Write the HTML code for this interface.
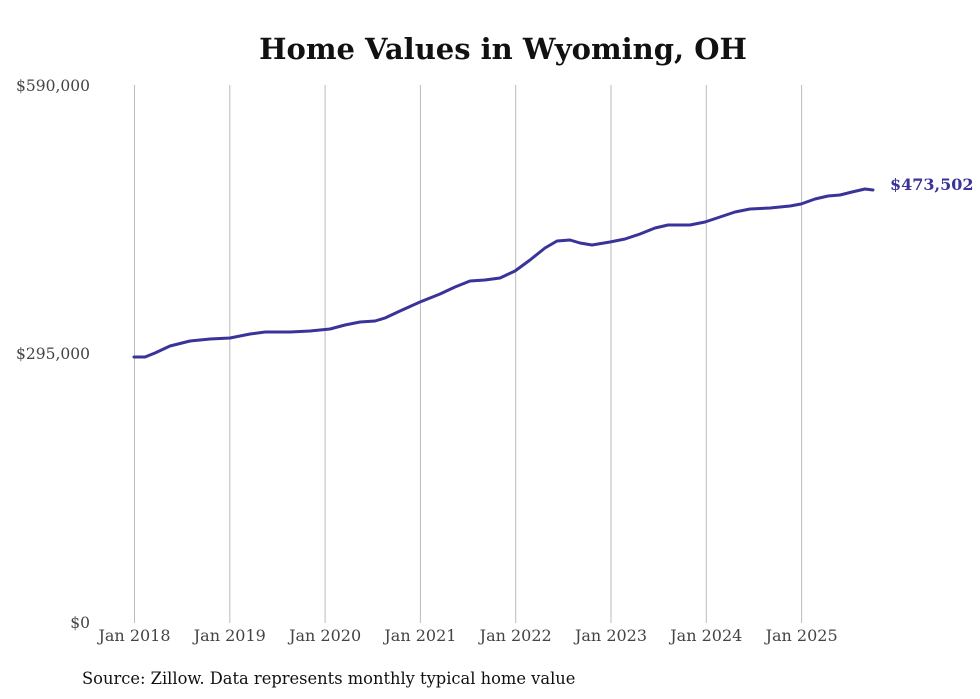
<!DOCTYPE html>
<html><head><meta charset="utf-8"><style>
html,body{margin:0;padding:0;background:#fff;}
svg{display:block;font-family:"DejaVu Serif","Liberation Serif",serif;}
</style></head><body>
<svg width="980" height="699" viewBox="0 0 980 699" xmlns="http://www.w3.org/2000/svg">
<rect width="980" height="699" fill="#fff"/>
<text x="503" y="59" text-anchor="middle" font-size="29" font-weight="bold" fill="#111">Home Values in Wyoming, OH</text>
<g stroke="#bbb" stroke-width="1">
<line x1="134.5" y1="85" x2="134.5" y2="623"/>
<line x1="229.8" y1="85" x2="229.8" y2="623"/>
<line x1="325.1" y1="85" x2="325.1" y2="623"/>
<line x1="420.4" y1="85" x2="420.4" y2="623"/>
<line x1="515.7" y1="85" x2="515.7" y2="623"/>
<line x1="611" y1="85" x2="611" y2="623"/>
<line x1="706.3" y1="85" x2="706.3" y2="623"/>
<line x1="801.6" y1="85" x2="801.6" y2="623"/>
</g>
<g font-size="15.5" fill="#444">
<text x="90" y="91" text-anchor="end">$590,000</text>
<text x="90" y="359" text-anchor="end">$295,000</text>
<text x="90" y="628" text-anchor="end">$0</text>
</g>
<g font-size="16" fill="#444" text-anchor="middle">
<text x="134.5" y="641">Jan 2018</text>
<text x="229.8" y="641">Jan 2019</text>
<text x="325.1" y="641">Jan 2020</text>
<text x="420.4" y="641">Jan 2021</text>
<text x="515.7" y="641">Jan 2022</text>
<text x="611" y="641">Jan 2023</text>
<text x="706.3" y="641">Jan 2024</text>
<text x="801.6" y="641">Jan 2025</text>
</g>
<polyline fill="none" stroke="#3a3399" stroke-width="3" stroke-linejoin="round" stroke-linecap="round"
points="134,357 145,357 155,353 170,346 190,341 210,339 230,338 250,334 265,332 290,332 310,331 330,329 345,325 360,322 375,321 385,318 400,311 420,302 440,294 455,287 470,281 485,280 500,278 515,271 530,260 545,248 557,241 570,240 580,243 592,245 610,242 625,239 640,234 655,228 668,225 690,225 705,222 720,217 735,212 750,209 770,208 790,206 801,204 815,199 828,196 840,195 852,192 865,189 873,190"/>
<text x="890" y="190" font-size="16" font-weight="bold" fill="#3a3399">$473,502</text>
<text x="82" y="684" font-size="16.3" fill="#111">Source: Zillow. Data represents monthly typical home value</text>
</svg>
</body></html>
